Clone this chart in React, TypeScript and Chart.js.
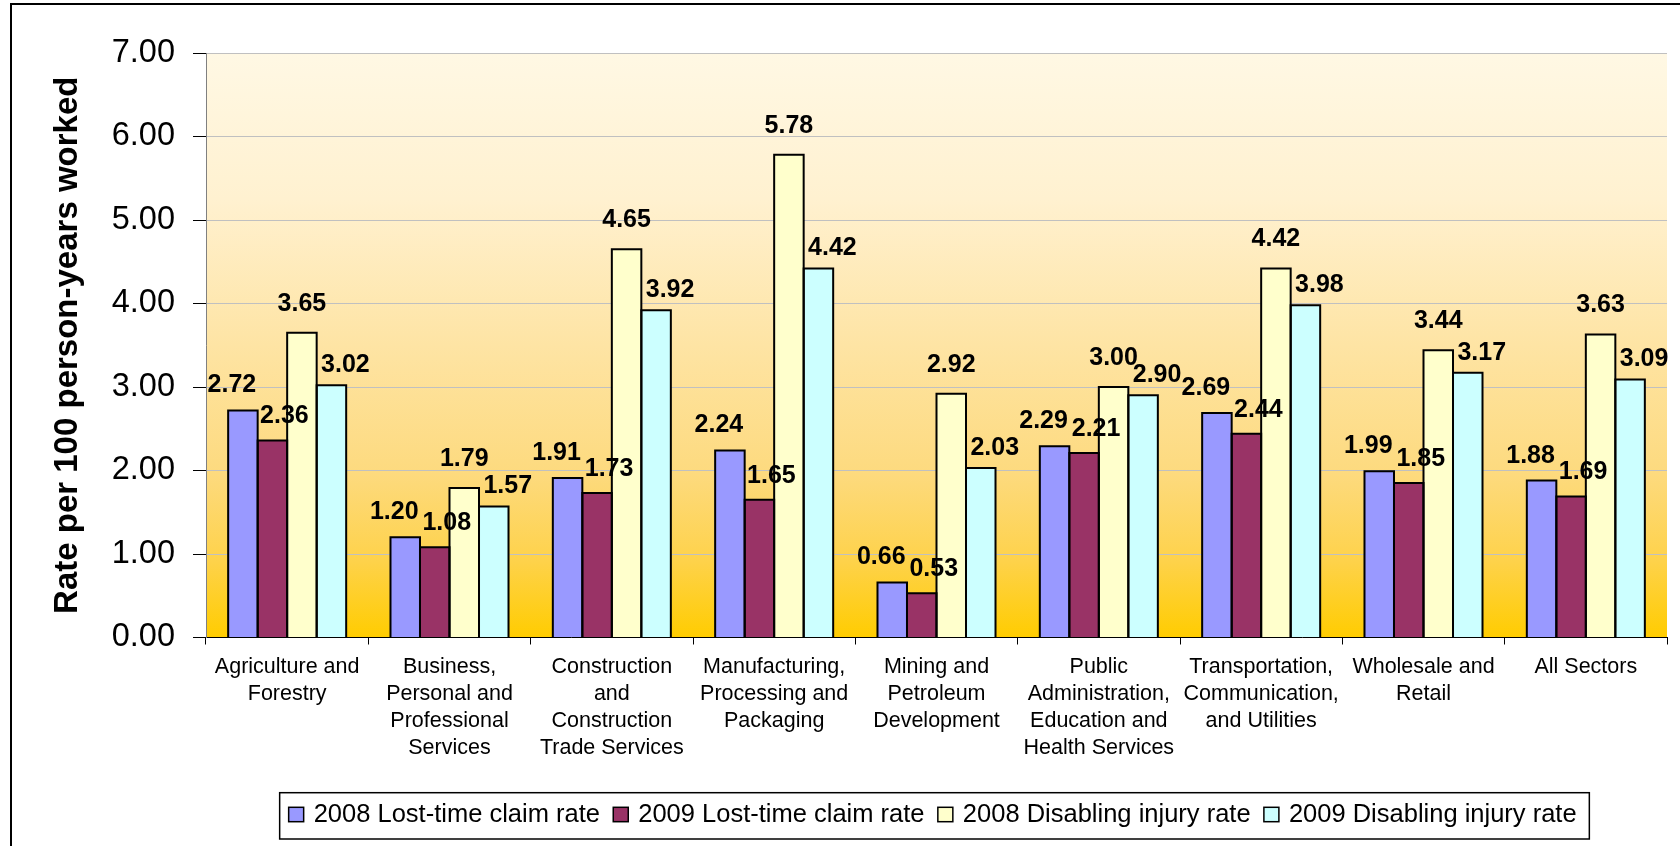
import React, { useEffect, useRef } from "react";
import { Chart, registerables } from "chart.js";

Chart.register(...registerables);

// ---------- data ----------
const categories: string[][] = [
  ["Agriculture and", "Forestry"],
  ["Business,", "Personal and", "Professional", "Services"],
  ["Construction", "and", "Construction", "Trade Services"],
  ["Manufacturing,", "Processing and", "Packaging"],
  ["Mining and", "Petroleum", "Development"],
  ["Public", "Administration,", "Education and", "Health Services"],
  ["Transportation,", "Communication,", "and Utilities"],
  ["Wholesale and", "Retail"],
  ["All Sectors"],
];

const seriesNames = [
  "2008 Lost-time claim rate",
  "2009 Lost-time claim rate",
  "2008 Disabling injury rate",
  "2009 Disabling injury rate",
];

const lostTime2008 = [2.72, 1.2, 1.91, 2.24, 0.66, 2.29, 2.69, 1.99, 1.88];
const lostTime2009 = [2.36, 1.08, 1.73, 1.65, 0.53, 2.21, 2.44, 1.85, 1.69];
const disabling2008 = [3.65, 1.79, 4.65, 5.78, 2.92, 3.0, 4.42, 3.44, 3.63];
const disabling2009 = [3.02, 1.57, 3.92, 4.42, 2.03, 2.9, 3.98, 3.17, 3.09];

const yMin = 0;
const yMax = 7;
const yStep = 1;
const yTitle = "Rate per 100 person-years worked";

// ---------- style ----------
const FONT = '"Liberation Sans", Arial, Helvetica, sans-serif';
const seriesColors = ["#9999FF", "#993366", "#FFFFCC", "#CCFFFF"];
const labelShiftX = [-11, 12, 0, 14];
const labelGap = [18, 17, 22, 13];

const backgroundPlugin = {
  id: "plotBackground",
  beforeDraw(chart: any) {
    const { ctx, chartArea } = chart;
    if (!chartArea) return;
    const { left, right, top, bottom } = chartArea;
    const g = ctx.createLinearGradient(0, top, 0, bottom);
    g.addColorStop(0, "#FFF8E4");
    g.addColorStop(0.25, "#FFF1D0");
    g.addColorStop(0.5, "#FEE4A4");
    g.addColorStop(0.72, "#FDDA7E");
    g.addColorStop(0.87, "#FED24A");
    g.addColorStop(1, "#FFCC00");
    ctx.save();
    ctx.fillStyle = g;
    ctx.fillRect(left, top, right - left, bottom - top);
    ctx.restore();
  },
};

const barOutlinePlugin = {
  id: "barOutline",
  afterDatasetsDraw(chart: any) {
    const ctx = chart.ctx;
    ctx.save();
    ctx.strokeStyle = "#000";
    ctx.lineWidth = 2;
    ctx.lineJoin = "miter";
    chart.data.datasets.forEach((_: any, di: number) => {
      const meta = chart.getDatasetMeta(di);
      meta.data.forEach((el: any) => {
        const { x, y, base, width } = el.getProps(["x", "y", "base", "width"], true);
        const l = x - width / 2;
        const r = x + width / 2;
        ctx.beginPath();
        ctx.moveTo(l, base);
        ctx.lineTo(l, y);
        ctx.lineTo(r, y);
        ctx.lineTo(r, base);
        ctx.stroke();
      });
    });
    // value labels
    ctx.fillStyle = "#000";
    ctx.font = `bold 25px ${FONT}`;
    ctx.textAlign = "center";
    ctx.textBaseline = "alphabetic";
    chart.data.datasets.forEach((ds: any, di: number) => {
      const meta = chart.getDatasetMeta(di);
      meta.data.forEach((el: any, i: number) => {
        const { x, y } = el.getProps(["x", "y"], true);
        const v = Number(ds.data[i]);
        ctx.fillText(v.toFixed(2), x + labelShiftX[di], y - labelGap[di]);
      });
    });
    ctx.restore();
  },
};

const legendBoxPlugin = {
  id: "legendBox",
  afterDraw(chart: any) {
    const { ctx, chartArea } = chart;
    const ds = chart.data.datasets;
    ctx.save();
    ctx.font = `25.5px ${FONT}`;
    const sq = 15;
    const textGap = 10;
    const itemGap = 13.3;
    const widths = ds.map((d: any) => ctx.measureText(d.label).width);
    const total =
      widths.reduce((a: number, b: number) => a + b, 0) +
      ds.length * (sq + textGap) +
      (ds.length - 1) * itemGap;
    const padL = 9;
    const padR = 12.7;
    const boxW = total + padL + padR;
    const cx = (chartArea.left + chartArea.right) / 2 - 2;
    const boxL = cx - boxW / 2;
    const boxT = chartArea.bottom + 155.2;
    const boxH = 46.3;
    ctx.fillStyle = "#fff";
    ctx.fillRect(boxL, boxT, boxW, boxH);
    ctx.strokeStyle = "#000";
    ctx.lineWidth = 1.5;
    ctx.strokeRect(boxL, boxT, boxW, boxH);
    const baseY = boxT + 29;
    let x = boxL + padL;
    ds.forEach((d: any, i: number) => {
      ctx.fillStyle = d.backgroundColor;
      ctx.fillRect(x, baseY - 14.4, sq, 14.4);
      ctx.strokeStyle = "#000";
      ctx.lineWidth = 1.5;
      ctx.strokeRect(x, baseY - 14.4, sq, 14.4);
      ctx.fillStyle = "#000";
      ctx.textAlign = "left";
      ctx.textBaseline = "alphabetic";
      ctx.fillText(d.label, x + sq + textGap, baseY);
      x += sq + textGap + widths[i] + itemGap;
    });
    ctx.restore();
  },
};

export default function App() {
  const ref = useRef<HTMLCanvasElement>(null);

  useEffect(() => {
    if (!ref.current) return;
    const seriesData = [lostTime2008, lostTime2009, disabling2008, disabling2009];
    const chart = new Chart(ref.current, {
      type: "bar",
      data: {
        labels: categories,
        datasets: seriesData.map((d, i) => ({
          label: seriesNames[i],
          data: d,
          backgroundColor: seriesColors[i],
          borderWidth: 0,
          categoryPercentage: 0.727,
          barPercentage: 1.0,
        })),
      },
      options: {
        responsive: false,
        animation: false,
        devicePixelRatio: 1,
        layout: { padding: { top: 53, right: 13, left: 0, bottom: 0 } },
        plugins: {
          legend: { display: false },
          tooltip: { enabled: false },
          title: { display: false },
        },
        scales: {
          x: {
            type: "category",
            offset: true,
            z: 1,
            grid: {
              display: true,
              offset: true,
              drawOnChartArea: false,
              drawTicks: true,
              tickLength: 7,
              tickColor: "#000",
              color: "#000",
            },
            border: { display: true, color: "#000", width: 1 },
            ticks: {
              color: "#000",
              font: { family: FONT, size: 21.5, lineHeight: 1.256 },
              padding: 9,
              maxRotation: 0,
              minRotation: 0,
              autoSkip: false,
            },
            afterFit: (s: any) => {
              s.height = 208.5;
            },
          },
          y: {
            min: yMin,
            max: yMax,
            ticks: {
              stepSize: yStep,
              color: "#000",
              font: { family: FONT, size: 32.5 },
              padding: 18,
              callback: (v: any) => Number(v).toFixed(2),
            },
            grid: {
              color: "#C0C0C0",
              lineWidth: 1,
              drawTicks: true,
              tickLength: 13,
              tickColor: "#000",
            },
            border: { display: true, color: "#808080", width: 1 },
            title: {
              display: true,
              text: yTitle,
              color: "#000",
              font: { family: FONT, size: 33, weight: "bold" },
              padding: { top: 48, bottom: 0 },
            },
            afterFit: (s: any) => {
              s.width = 206;
            },
          },
        },
      } as any,
      plugins: [backgroundPlugin, barOutlinePlugin, legendBoxPlugin],
    });
    return () => chart.destroy();
  }, []);

  return (
    <div
      style={{
        position: "fixed",
        left: 0,
        top: 0,
        width: 1680,
        height: 846,
        overflow: "hidden",
        background: "#fff",
      }}
    >
      <canvas
        ref={ref}
        width={1680}
        height={846}
        style={{ position: "absolute", left: 0, top: 0, width: 1680, height: 846 }}
      />
      <div
        style={{
          position: "absolute",
          left: 10,
          top: 2.5,
          width: 3000,
          height: 3000,
          borderTop: "2.5px solid #000",
          borderLeft: "2.5px solid #000",
          pointerEvents: "none",
        }}
      />
    </div>
  );
}
